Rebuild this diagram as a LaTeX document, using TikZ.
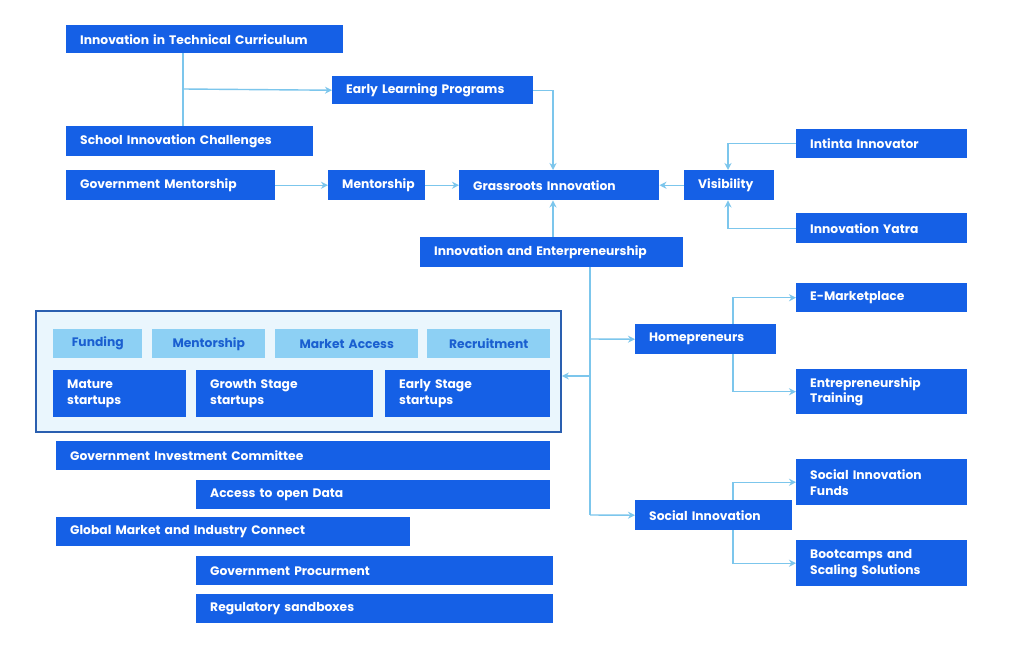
\documentclass[tikz,border=0pt]{standalone}
\usepackage{fontspec}
\setmainfont{Poppins}
\usetikzlibrary{arrows.meta}
\definecolor{dblue}{HTML}{1560E6}
\definecolor{lblue}{HTML}{8DD0F4}
\definecolor{ltxt}{HTML}{1A5FD0}
\definecolor{cfill}{HTML}{EAF6FD}
\definecolor{cline}{HTML}{2A5FB0}
\definecolor{conn}{HTML}{7CC6EC}
\tikzset{
 db/.style={fill=dblue,text=white,align=left,font=\fontsize{10.5}{13.5}\selectfont\bfseries},
 lb/.style={fill=lblue,text=ltxt,align=center,font=\fontsize{10.5}{13.5}\selectfont\bfseries},
 cn/.style={draw=conn,line width=1.2pt,-{Stealth[length=6pt,width=6pt]}},
 ln/.style={draw=conn,line width=1.2pt},
}
\newcommand\bx[7]{%
 \pgfmathsetmacro\ww{(#5-#3)*0.03}\pgfmathsetmacro\hh{(#6-#4)*0.03}\pgfmathsetmacro\tw{\ww-0.84}%
 \node[#1,anchor=north west,minimum width=\ww cm,minimum height=\hh cm,text width=\tw cm,inner xsep=0.42cm,inner ysep=0pt] (#2) at (#3,#4) {#7};}
\begin{document}
\begin{tikzpicture}[x=0.03cm,y=-0.03cm]
\useasboundingbox (0,0) rectangle (1024,650);
\fill[white] (0,0) rectangle (1024,650);
\draw[fill=cfill,draw=cline,line width=1pt] (36,311) rectangle (561,432);
\node[inner sep=0] (cont) at (561,376) {};
\bx{db}{itc}{66}{25}{343}{53}{Innovation in Technical Curriculum}
\bx{db}{elp}{332}{76}{533}{104}{Early Learning Programs}
\bx{db}{sic}{66}{126}{313}{156}{School Innovation Challenges}
\bx{db}{gm}{66}{170}{275}{200}{Government Mentorship}
\bx{db}{ment}{328}{170}{425}{200}{Mentorship}
\bx{db}{gi}{459}{170}{659}{200}{Grassroots Innovation}
\bx{db}{vis}{684}{170}{774}{200}{Visibility}
\bx{db}{ii}{796}{129}{967}{158}{Intinta Innovator}
\bx{db}{iy}{796}{213}{967}{243}{Innovation Yatra}
\bx{db}{ie}{420}{237}{683}{267}{Innovation and Enterpreneurship}
\bx{db}{em}{796}{283}{967}{312}{E-Marketplace}
\bx{db}{home}{635}{324}{776}{354}{Homepreneurs}
\bx{db}{et}{796}{369}{967}{414}{Entrepreneurship\\Training}
\bx{db}{si}{635}{500}{792}{530}{Social Innovation}
\bx{db}{sif}{796}{459}{967}{505}{Social Innovation\\Funds}
\bx{db}{bss}{796}{540}{967}{586}{Bootcamps and\\Scaling Solutions}
\bx{lb}{fund}{53}{329}{142}{358}{Funding}
\bx{lb}{ment2}{152}{329}{265}{358}{Mentorship}
\bx{lb}{ma}{275}{329}{418}{358}{Market Access}
\bx{lb}{rec}{427}{329}{550}{358}{Recruitment}
\bx{db}{mat}{53}{370}{186}{417}{Mature\\startups}
\bx{db}{gro}{196}{370}{373}{417}{Growth Stage\\startups}
\bx{db}{ear}{385}{370}{550}{417}{Early Stage\\startups}
\bx{db}{gic}{56}{441}{550}{470}{Government Investment Committee}
\bx{db}{aod}{196}{480}{550}{509}{Access to open Data}
\bx{db}{gmic}{56}{517}{410}{546}{Global Market and Industry Connect}
\bx{db}{gp}{196}{556}{553}{585}{Government Procurment}
\bx{db}{rs}{196}{594}{553}{623}{Regulatory sandboxes}
% connectors
\draw[ln] (itc.south -| 183,0) -- (sic.north -| 183,0);
\draw[cn] (183,89) -- (elp.west);
\draw[cn] (elp.east) -| (gi.north -| 553,0);
\draw[cn] (gm) -- (ment);
\draw[cn] (ment) -- (gi);
\draw[cn] (vis) -- (gi);
\draw[cn] (ii.west) -| (vis.north -| 728,0);
\draw[cn] (iy.west) -| (vis.south -| 728,0);
\draw[cn] (ie.north -| 553,0) -- (gi.south -| 553,0);
\draw[ln] (ie.south -| 590,0) -- (590,515);
\draw[cn] (590,339) -- (home.west);
\draw[cn] (590,376) -- (cont);
\draw[cn] (590,515) -- (si.west);
\draw[cn] (home.north -| 733,0) |- (em.west);
\draw[cn] (home.south -| 733,0) |- (et.west);
\draw[cn] (si.north -| 733,0) |- (sif.west);
\draw[cn] (si.south -| 733,0) |- (bss.west);
\end{tikzpicture}
\end{document}
